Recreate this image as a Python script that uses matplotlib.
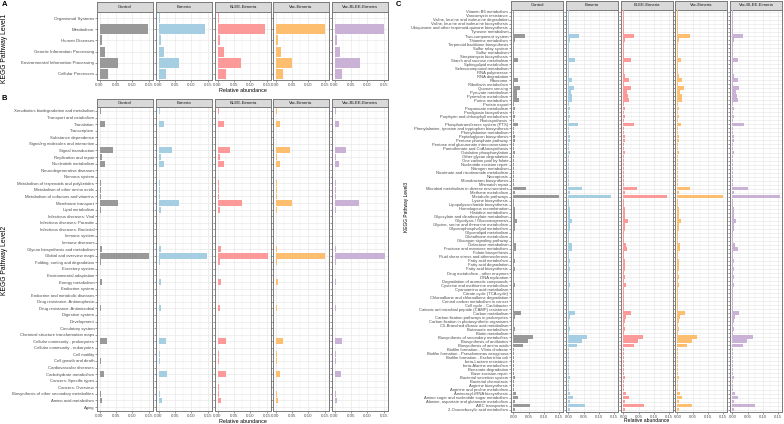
import matplotlib
matplotlib.use("Agg")
import matplotlib.pyplot as plt
import numpy as np

plt.rcParams['font.family'] = ['Liberation Sans', 'DejaVu Sans']

groups = ["Control", "Eimeria", "BLEE-Eimeria", "Vac-Eimeria", "Vac-BLEE-Eimeria"]
colors = ["#999999", "#a6cee3", "#fb9a99", "#fdbf6f", "#cab2d6"]
xtick_vals = [0.00, 0.05, 0.10, 0.15]
xtick_labels = ["0.00", "0.05", "0.10", "0.15"]

# ---------------- Level 1 ----------------
level1_labels = ["Organismal Systems", "Metabolism", "Human Diseases",
                 "Genetic Information Processing", "Environmental Information Processing",
                 "Cellular Processes"]
level1_control = [0.002, 0.149, 0.006, 0.017, 0.057, 0.025]
level1_eimeria = [0.003, 0.142, 0.007, 0.016, 0.061, 0.024]
level1_blee = [0.003, 0.143, 0.006, 0.019, 0.072, 0.026]
level1_vac = [0.002, 0.152, 0.006, 0.016, 0.051, 0.023]
level1_vacblee = [0.002, 0.152, 0.006, 0.017, 0.076, 0.023]

# ---------------- Level 2 ----------------
level2_labels = [
    "Xenobiotics biodegradation and metabolism", "Transport and catabolism", "Translation",
    "Transcription", "Substance dependence", "Signaling molecules and interaction",
    "Signal transduction", "Replication and repair", "Nucleotide metabolism",
    "Neurodegenerative diseases", "Nervous system", "Metabolism of terpenoids and polyketides",
    "Metabolism of other amino acids", "Metabolism of cofactors and vitamins",
    "Membrane transport", "Lipid metabolism", "Infectious diseases: Viral",
    "Infectious diseases: Parasitic", "Infectious diseases: Bacterial", "Immune system",
    "Immune diseases", "Glycan biosynthesis and metabolism", "Global and overview maps",
    "Folding, sorting and degradation", "Excretory system", "Environmental adaptation",
    "Energy metabolism", "Endocrine system", "Endocrine and metabolic diseases",
    "Drug resistance: Antineoplastic", "Drug resistance: Antimicrobial", "Digestive system",
    "Development", "Circulatory system", "Chemical structure transformation maps",
    "Cellular community - prokaryotes", "Cellular community - eukaryotes", "Cell motility",
    "Cell growth and death", "Cardiovascular diseases", "Carbohydrate metabolism",
    "Cancers: Specific types", "Cancers: Overview", "Biosynthesis of other secondary metabolites",
    "Amino acid metabolism", "Aging"]
level2_control = [0.003, 0.001, 0.017, 0.002, 0.0002, 0.0005, 0.040, 0.006, 0.017, 0.0005,
                  0.0003, 0.003, 0.003, 0.004, 0.055, 0.005, 0.0001, 0.0001, 0.001, 0.001,
                  0.0005, 0.007, 0.150, 0.004, 0.0003, 0.001, 0.008, 0.002, 0.001, 0.0008,
                  0.005, 0.0005, 0.0002, 0.0002, 0.0003, 0.022, 0.001, 0.002, 0.004, 0.001,
                  0.015, 0.0005, 0.002, 0.003, 0.008, 0.0005]
level2_eimeria = [0.003, 0.001, 0.017, 0.002, 0.0002, 0.0005, 0.042, 0.007, 0.017, 0.0005,
                  0.0003, 0.003, 0.003, 0.004, 0.062, 0.006, 0.0001, 0.0001, 0.001, 0.001,
                  0.0005, 0.007, 0.148, 0.004, 0.0003, 0.001, 0.008, 0.002, 0.001, 0.0008,
                  0.007, 0.0005, 0.0002, 0.0002, 0.0003, 0.024, 0.001, 0.003, 0.004, 0.001,
                  0.027, 0.0005, 0.002, 0.003, 0.010, 0.0005]
level2_blee = [0.004, 0.001, 0.020, 0.002, 0.0002, 0.0005, 0.038, 0.007, 0.020, 0.0005,
               0.0003, 0.004, 0.004, 0.005, 0.074, 0.006, 0.0001, 0.0001, 0.001, 0.001,
               0.0005, 0.009, 0.155, 0.006, 0.0003, 0.001, 0.009, 0.002, 0.001, 0.0008,
               0.006, 0.0005, 0.0002, 0.0002, 0.0003, 0.026, 0.001, 0.003, 0.005, 0.001,
               0.027, 0.0005, 0.003, 0.004, 0.011, 0.0005]
level2_vac = [0.003, 0.001, 0.015, 0.002, 0.0002, 0.0005, 0.043, 0.005, 0.015, 0.0005,
              0.0003, 0.003, 0.003, 0.004, 0.049, 0.004, 0.0001, 0.0001, 0.001, 0.001,
              0.0005, 0.005, 0.152, 0.004, 0.0003, 0.001, 0.006, 0.002, 0.001, 0.0008,
              0.005, 0.0005, 0.0002, 0.0002, 0.0003, 0.022, 0.001, 0.003, 0.004, 0.001,
              0.014, 0.0005, 0.002, 0.003, 0.008, 0.0005]
level2_vacblee = [0.003, 0.001, 0.015, 0.002, 0.0002, 0.0005, 0.034, 0.005, 0.015, 0.0005,
                  0.0003, 0.003, 0.003, 0.004, 0.074, 0.004, 0.0001, 0.0001, 0.001, 0.001,
                  0.0005, 0.005, 0.155, 0.004, 0.0003, 0.001, 0.005, 0.002, 0.001, 0.0008,
                  0.004, 0.0005, 0.0002, 0.0002, 0.0003, 0.022, 0.001, 0.003, 0.004, 0.001,
                  0.020, 0.0005, 0.002, 0.003, 0.008, 0.0005]

# ---------------- Level 3 ----------------
level3_labels = [
    "Vitamin B6 metabolism", "Vancomycin resistance", "Valine, leucine and isoleucine degradation",
    "Valine, leucine and isoleucine biosynthesis", "Ubiquinone and other terpenoid-quinone biosynthesis",
    "Tyrosine metabolism", "Two-component system", "Thiamine metabolism",
    "Terpenoid backbone biosynthesis", "Sulfur relay system", "Sulfur metabolism",
    "Streptomycin biosynthesis", "Starch and sucrose metabolism", "Sphingolipid metabolism",
    "Selenocompound metabolism", "RNA polymerase", "RNA degradation", "Ribosome",
    "Riboflavin metabolism", "Quorum sensing", "Pyruvate metabolism", "Pyrimidine metabolism",
    "Purine metabolism", "Protein export", "Propanoate metabolism", "Prodigiosin biosynthesis",
    "Porphyrin and chlorophyll metabolism", "Photosynthesis", "Phosphotransferase system (PTS)",
    "Phenylalanine, tyrosine and tryptophan biosynthesis", "Phenylalanine metabolism",
    "Peptidoglycan biosynthesis", "Pentose phosphate pathway",
    "Pentose and glucuronate interconversions", "Pantothenate and CoA biosynthesis",
    "Oxidative phosphorylation", "Other glycan degradation", "One carbon pool by folate",
    "Nucleotide excision repair", "Nitrogen metabolism", "Nicotinate and nicotinamide metabolism",
    "Necroptosis", "Monobactam biosynthesis", "Mismatch repair",
    "Microbial metabolism in diverse environments", "Methane metabolism", "Metabolic pathways",
    "Lysine biosynthesis", "Lipopolysaccharide biosynthesis", "Homologous recombination",
    "Histidine metabolism", "Glyoxylate and dicarboxylate metabolism",
    "Glycolysis / Gluconeogenesis", "Glycine, serine and threonine metabolism",
    "Glycerophospholipid metabolism", "Glycerolipid metabolism", "Glutathione metabolism",
    "Glucagon signaling pathway", "Galactose metabolism", "Fructose and mannose metabolism",
    "Folate biosynthesis", "Fluid shear stress and atherosclerosis", "Fatty acid metabolism",
    "Fatty acid degradation", "Fatty acid biosynthesis", "Drug metabolism - other enzymes",
    "DNA replication", "Degradation of aromatic compounds", "Cysteine and methionine metabolism",
    "Cyanoamino acid metabolism", "Citrate cycle (TCA cycle)",
    "Chloroalkane and chloroalkene degradation", "Central carbon metabolism in cancer",
    "Cell cycle - Caulobacter", "Cationic antimicrobial peptide (CAMP) resistance",
    "Carbon metabolism", "Carbon fixation pathways in prokaryotes",
    "Carbon fixation in photosynthetic organisms", "C5-Branched dibasic acid metabolism",
    "Butanoate metabolism", "Biotin metabolism", "Biosynthesis of secondary metabolites",
    "Biosynthesis of antibiotics", "Biosynthesis of amino acids",
    "Biofilm formation - Vibrio cholerae", "Biofilm formation - Pseudomonas aeruginosa",
    "Biofilm formation - Escherichia coli", "beta-Lactam resistance", "beta-Alanine metabolism",
    "Benzoate degradation", "Base excision repair", "Bacterial secretion system",
    "Bacterial chemotaxis", "Arginine biosynthesis", "Arginine and proline metabolism",
    "Aminoacyl-tRNA biosynthesis", "Amino sugar and nucleotide sugar metabolism",
    "Alanine, aspartate and glutamate metabolism", "ABC transporters",
    "2-Oxocarboxylic acid metabolism"]
level3_control = [
    0.002, 0.002, 0.002, 0.003, 0.003, 0.002, 0.038, 0.004, 0.003, 0.002,
    0.003, 0.002, 0.014, 0.001, 0.002, 0.001, 0.003, 0.016, 0.003, 0.022,
    0.011, 0.013, 0.017, 0.003, 0.005, 0.001, 0.004, 0.001, 0.016, 0.003,
    0.002, 0.006, 0.006, 0.003, 0.003, 0.006, 0.002, 0.003, 0.002, 0.003,
    0.003, 0.0005, 0.002, 0.003, 0.042, 0.007, 0.150, 0.003, 0.002, 0.005,
    0.004, 0.005, 0.011, 0.007, 0.005, 0.003, 0.003, 0.001, 0.008, 0.008,
    0.002, 0.0005, 0.004, 0.003, 0.004, 0.003, 0.003, 0.001, 0.007, 0.003,
    0.003, 0.001, 0.001, 0.002, 0.002, 0.024, 0.007, 0.003, 0.002, 0.004,
    0.002, 0.066, 0.048, 0.031, 0.002, 0.002, 0.003, 0.003, 0.002, 0.001,
    0.002, 0.004, 0.001, 0.003, 0.003, 0.009, 0.014, 0.005, 0.055, 0.004]
level3_eimeria = [
    0.002, 0.002, 0.002, 0.003, 0.003, 0.002, 0.036, 0.004, 0.003, 0.002,
    0.003, 0.002, 0.022, 0.001, 0.002, 0.001, 0.003, 0.013, 0.003, 0.019,
    0.010, 0.011, 0.013, 0.003, 0.004, 0.001, 0.004, 0.001, 0.031, 0.003,
    0.002, 0.005, 0.005, 0.003, 0.003, 0.005, 0.002, 0.003, 0.002, 0.003,
    0.003, 0.0005, 0.002, 0.003, 0.044, 0.005, 0.139, 0.003, 0.002, 0.004,
    0.004, 0.005, 0.013, 0.006, 0.004, 0.003, 0.003, 0.001, 0.011, 0.011,
    0.002, 0.0005, 0.004, 0.003, 0.004, 0.003, 0.003, 0.001, 0.006, 0.003,
    0.003, 0.001, 0.001, 0.002, 0.002, 0.021, 0.005, 0.003, 0.002, 0.004,
    0.002, 0.061, 0.046, 0.028, 0.002, 0.002, 0.003, 0.003, 0.002, 0.001,
    0.002, 0.004, 0.001, 0.003, 0.003, 0.007, 0.015, 0.005, 0.056, 0.004]
level3_blee = [
    0.002, 0.002, 0.002, 0.003, 0.003, 0.002, 0.036, 0.004, 0.003, 0.002,
    0.003, 0.002, 0.025, 0.001, 0.002, 0.001, 0.004, 0.018, 0.003, 0.025,
    0.013, 0.015, 0.018, 0.003, 0.007, 0.001, 0.004, 0.001, 0.035, 0.003,
    0.002, 0.007, 0.006, 0.003, 0.003, 0.006, 0.002, 0.003, 0.002, 0.003,
    0.003, 0.0005, 0.002, 0.003, 0.045, 0.005, 0.142, 0.003, 0.002, 0.006,
    0.004, 0.006, 0.015, 0.007, 0.005, 0.003, 0.003, 0.001, 0.008, 0.011,
    0.002, 0.0005, 0.005, 0.004, 0.004, 0.003, 0.004, 0.001, 0.009, 0.003,
    0.003, 0.001, 0.001, 0.002, 0.002, 0.024, 0.008, 0.004, 0.002, 0.004,
    0.002, 0.064, 0.048, 0.034, 0.002, 0.002, 0.003, 0.003, 0.002, 0.001,
    0.002, 0.004, 0.001, 0.003, 0.003, 0.009, 0.018, 0.006, 0.068, 0.004]
level3_vac = [
    0.002, 0.002, 0.002, 0.003, 0.003, 0.002, 0.043, 0.004, 0.003, 0.002,
    0.003, 0.002, 0.012, 0.001, 0.002, 0.001, 0.004, 0.015, 0.003, 0.022,
    0.010, 0.014, 0.016, 0.003, 0.006, 0.001, 0.004, 0.001, 0.011, 0.003,
    0.002, 0.006, 0.006, 0.003, 0.003, 0.007, 0.002, 0.003, 0.002, 0.003,
    0.003, 0.0005, 0.002, 0.003, 0.041, 0.006, 0.151, 0.003, 0.002, 0.005,
    0.004, 0.006, 0.011, 0.007, 0.005, 0.003, 0.003, 0.001, 0.009, 0.009,
    0.002, 0.0005, 0.005, 0.004, 0.004, 0.003, 0.004, 0.001, 0.007, 0.003,
    0.003, 0.001, 0.001, 0.002, 0.002, 0.024, 0.008, 0.004, 0.002, 0.004,
    0.002, 0.063, 0.047, 0.030, 0.002, 0.002, 0.003, 0.003, 0.002, 0.001,
    0.002, 0.004, 0.001, 0.003, 0.003, 0.008, 0.014, 0.005, 0.048, 0.004]
level3_vacblee = [
    0.002, 0.002, 0.002, 0.003, 0.003, 0.002, 0.035, 0.004, 0.003, 0.002,
    0.003, 0.002, 0.020, 0.001, 0.002, 0.001, 0.004, 0.018, 0.003, 0.023,
    0.011, 0.015, 0.018, 0.003, 0.005, 0.001, 0.004, 0.001, 0.039, 0.003,
    0.002, 0.006, 0.006, 0.003, 0.003, 0.006, 0.002, 0.003, 0.002, 0.003,
    0.003, 0.0005, 0.002, 0.003, 0.051, 0.007, 0.155, 0.003, 0.002, 0.005,
    0.004, 0.006, 0.013, 0.007, 0.005, 0.003, 0.003, 0.001, 0.010, 0.020,
    0.002, 0.0005, 0.004, 0.003, 0.004, 0.003, 0.004, 0.001, 0.007, 0.003,
    0.003, 0.001, 0.001, 0.002, 0.002, 0.023, 0.008, 0.004, 0.002, 0.004,
    0.002, 0.069, 0.049, 0.034, 0.002, 0.002, 0.003, 0.003, 0.002, 0.001,
    0.002, 0.004, 0.001, 0.003, 0.003, 0.009, 0.020, 0.006, 0.075, 0.004]

W, H = 784, 424
fig = plt.figure(figsize=(W / 100, H / 100), dpi=100)
fig.patch.set_facecolor("white")

XLIM = (-0.00775, 0.16275)
BORDER = "#7a7a7a"
GRID = "#e6e6e6"
TXT = "#4d4d4d"


def px_axes(x0, y0, x1, y1):
    return fig.add_axes([x0 / W, 1 - y1 / H, (x1 - x0) / W, (y1 - y0) / H])


def draw_level(labels, series, lefts, width, strip_top, strip_bot, panel_bot,
               label_fs, tick_fs, strip_fs, pad):
    n = len(labels)
    ypos = np.arange(n)
    for i, (g, vals) in enumerate(zip(groups, series)):
        x0 = lefts[i]
        # strip
        sax = px_axes(x0, strip_top, x0 + width, strip_bot)
        sax.set_facecolor("#d9d9d9")
        sax.set_xticks([]); sax.set_yticks([])
        for sp in sax.spines.values():
            sp.set_color(BORDER); sp.set_linewidth(0.7)
        sax.text(0.5, 0.5, g, ha="center", va="center", fontsize=strip_fs,
                 color="#1a1a1a", transform=sax.transAxes)
        # panel
        ax = px_axes(x0, strip_bot, x0 + width, panel_bot)
        ax.barh(ypos, vals, height=0.9, color=colors[i], linewidth=0, zorder=3)
        ax.set_xlim(*XLIM)
        ax.set_ylim(n - 1 + pad, -pad)
        ax.set_xticks(xtick_vals)
        ax.set_xticklabels(xtick_labels)
        ax.set_xticks([0.025, 0.075, 0.125], minor=True)
        ax.set_yticks(ypos)
        if i == 0:
            ax.set_yticklabels(labels)
        else:
            ax.set_yticklabels([])
            ax.tick_params(axis="y", length=0)
        ax.grid(True, which="major", color=GRID, linewidth=0.45, zorder=0)
        ax.grid(True, which="minor", axis="x", color=GRID, linewidth=0.25, zorder=0)
        ax.set_axisbelow(True)
        ax.tick_params(axis="both", which="major", labelsize=tick_fs, colors=TXT,
                       length=1.2, width=0.4, pad=1)
        ax.tick_params(axis="y", labelsize=label_fs, pad=0.8)
        ax.tick_params(axis="x", which="minor", length=0)
        for sp in ax.spines.values():
            sp.set_color(BORDER); sp.set_linewidth(0.7)


lefts_ab = [97, 156, 215, 273, 332]
lefts_c = [511, 566, 621, 675, 730]

# Panel A
draw_level(level1_labels,
           [level1_control, level1_eimeria, level1_blee, level1_vac, level1_vacblee],
           lefts_ab, 56, 2, 12, 80, 3.2, 3.2, 3.2, 0.55)
# Panel B
draw_level(level2_labels,
           [level2_control, level2_eimeria, level2_blee, level2_vac, level2_vacblee],
           lefts_ab, 56, 98.5, 107, 411, 3.1, 3.2, 3.2, 0.6)
# Panel C
draw_level(level3_labels,
           [level3_control, level3_eimeria, level3_blee, level3_vac, level3_vacblee],
           lefts_c, 52, 0.5, 9.5, 412, 3.0, 3.1, 3.1, 0.6)


def ftext(x, y, s, **kw):
    fig.text(x / W, 1 - y / H, s, **kw)


ftext(2, 4, "A", fontsize=5.5, fontweight="bold", ha="left", va="center")
ftext(2, 98, "B", fontsize=5.5, fontweight="bold", ha="left", va="center")
ftext(396, 5, "C", fontsize=5.5, fontweight="bold", ha="left", va="center")

ftext(242.5, 91, "Relative abundance", fontsize=3.9, ha="center", va="center")
ftext(242.5, 421.5, "Relative abundance", fontsize=3.9, ha="center", va="center")
ftext(646.5, 421, "Relative abundance", fontsize=3.6, ha="center", va="center")

ftext(5, 48, "KEGG Pathway Level1", fontsize=4.9, rotation=90, ha="center", va="center")
ftext(5, 260, "KEGG Pathway Level2", fontsize=4.9, rotation=90, ha="center", va="center")
ftext(406, 207, "KEGG Pathway Level3", fontsize=3.5, rotation=90, ha="center", va="center")

fig.savefig("out.png", dpi=100, facecolor="white")
